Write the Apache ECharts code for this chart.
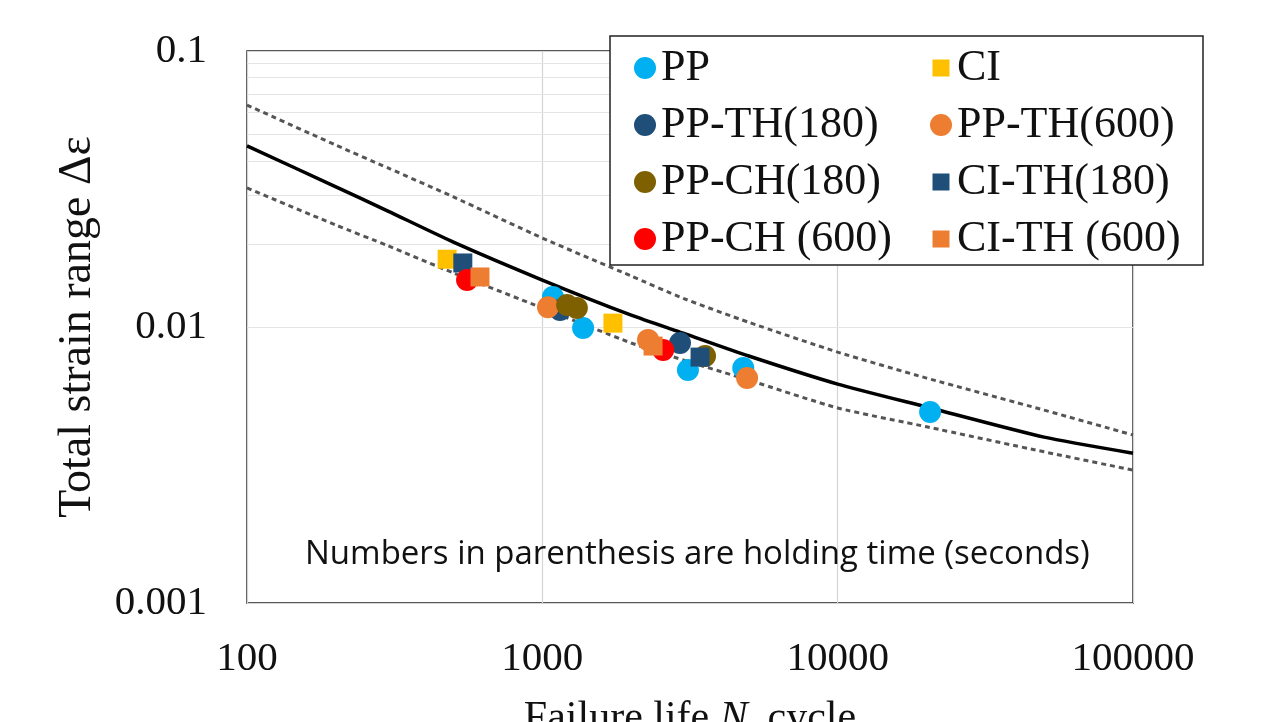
<!DOCTYPE html>
<html>
<head>
<meta charset="utf-8">
<title>Total strain range vs failure life</title>
<script src="https://cdn.jsdelivr.net/npm/echarts@6/dist/echarts.min.js"></script>
<style>
  html, body { margin: 0; padding: 0; background: #fff; }
  #chart { width: 1273px; height: 722px; }
</style>
</head>
<body>
<div id="chart"></div>
<script>
// best-fit curve and the two dotted bands (N, strain range)
var curveN = [100, 200, 300, 500, 1000, 2000, 3000, 5000, 10000, 20000, 50000, 100000];
var meanCurve = [0.0453, 0.0322, 0.0263, 0.0203, 0.0148, 0.01104, 0.0095, 0.00785, 0.00621, 0.00513, 0.00399, 0.00349];
var upperBand = [0.0637, 0.0456, 0.0377, 0.0296, 0.0210, 0.0153, 0.0127, 0.0104, 0.00811, 0.00653, 0.0050, 0.00406];
var lowerBand = [0.0319, 0.0234, 0.0197, 0.0157, 0.01172, 0.00875, 0.00759, 0.00642, 0.00509, 0.00435, 0.00353, 0.00303];

// test results [failure life, total strain range]
var ppData = [[1086, 0.01285], [1374, 0.00992], [3112, 0.00698], [4790, 0.0071], [20560, 0.00492]];
var ciData = [[476, 0.0176], [1734, 0.01033]];
var ppTh180 = [[1148, 0.01153], [2925, 0.00875]];
var ppTh600 = [[1045, 0.0118], [2280, 0.00898], [4935, 0.00653]];
var ppCh180 = [[1213, 0.01202], [1309, 0.01172], [3556, 0.00785]];
var ciTh180 = [[538, 0.01706], [3420, 0.00778]];
var ppCh600 = [[556, 0.01479], [2565, 0.00826]];
var ciTh600 = [[615, 0.01518], [2371, 0.00853]];

var xTickLabels = ['100', '1000', '10000', '100000'];
var yTickLabels = ['0.001', '0.01', '0.1'];
var minorGrid = [0.002, 0.003, 0.004, 0.005, 0.006, 0.007, 0.008, 0.009,
                 0.02, 0.03, 0.04, 0.05, 0.06, 0.07, 0.08, 0.09];

function zip(xs, ys) {
    return xs.map(function (x, i) { return [x, ys[i]]; });
}

var serif = 'Liberation Serif';
var squareIcon = 'path://M0,0M22,22M2.5,2.5L19.5,2.5L19.5,19.5L2.5,19.5Z';

function dots(name, data, color, shape) {
    return {
        name: name,
        type: 'scatter',
        data: data,
        symbol: shape === 'rect' ? 'rect' : 'circle',
        symbolSize: shape === 'rect' ? 19 : 22,
        itemStyle: { color: color, opacity: 1 },
        z: 3
    };
}

var chart = echarts.init(document.getElementById('chart'));

var option = {
    animation: false,
    backgroundColor: '#fff',
    grid: {
        left: 247, top: 51, right: 140, bottom: 119,
        outerBoundsMode: 'none',
        containLabel: false,
        show: true,
        borderColor: '#222',
        borderWidth: 1.5
    },
    xAxis: {
        type: 'log',
        logBase: 10,
        min: 100,
        max: 100000,
        axisLine: { show: false },
        axisTick: { show: false },
        splitLine: { show: true, lineStyle: { color: '#d4d4d4', width: 1.2 } },
        axisLabel: {
            margin: 36,
            fontFamily: serif,
            fontSize: 41,
            color: '#111',
            formatter: function (v) { return xTickLabels[Math.round(Math.log10(v)) - 2]; }
        },
        name: '{t|Failure life }{i|N}{s|f}{t| cycle}',
        nameLocation: 'middle',
        nameGap: 95,
        nameTextStyle: {
            rich: {
                t: { fontFamily: serif, fontSize: 42, color: '#111' },
                i: { fontFamily: serif, fontSize: 42, fontStyle: 'italic', color: '#111' },
                s: { fontFamily: serif, fontSize: 28, color: '#111', verticalAlign: 'bottom', padding: [0, 0, -12, 0] }
            }
        }
    },
    yAxis: {
        type: 'log',
        logBase: 10,
        min: 0.001,
        max: 0.1,
        axisLine: { show: false },
        axisTick: { show: false },
        splitLine: { show: true, lineStyle: { color: '#d4d4d4', width: 1.2 } },
        axisLabel: {
            margin: 40,
            fontFamily: serif,
            fontSize: 41,
            color: '#111',
            formatter: function (v) { return yTickLabels[Math.round(Math.log10(v)) + 3]; }
        },
        name: 'Total strain range Δε',
        nameLocation: 'middle',
        nameGap: 146,
        nameTextStyle: { fontFamily: serif, fontSize: 46, color: '#111' }
    },
    legend: [
        {
            orient: 'vertical',
            left: 629,
            top: 40,
            itemWidth: 22,
            itemHeight: 22,
            itemGap: 11,
            textStyle: { fontFamily: serif, fontSize: 44, lineHeight: 46, color: '#111' },
            data: [
                { name: 'PP', icon: 'circle' },
                { name: 'PP-TH(180)', icon: 'circle' },
                { name: 'PP-CH(180)', icon: 'circle' },
                { name: 'PP-CH (600)', icon: 'circle' }
            ],
            z: 12
        },
        {
            orient: 'vertical',
            left: 925,
            top: 40,
            itemWidth: 22,
            itemHeight: 22,
            itemGap: 11,
            textStyle: { fontFamily: serif, fontSize: 44, lineHeight: 46, color: '#111' },
            data: [
                { name: 'CI', icon: squareIcon },
                { name: 'PP-TH(600)', icon: 'circle' },
                { name: 'CI-TH(180)', icon: squareIcon },
                { name: 'CI-TH (600)', icon: squareIcon }
            ],
            z: 12
        }
    ],
    graphic: [
        {
            type: 'rect',
            shape: { x: 610, y: 36, width: 593, height: 229 },
            style: { fill: '#fff', stroke: '#222', lineWidth: 1.5 },
            z: 10
        },
        {
            type: 'text',
            left: 305,
            top: 538,
            style: {
                text: 'Numbers in parenthesis are holding time (seconds)',
                font: '33px "Open Sans"',
                fill: '#111'
            },
            z: 10
        }
    ],
    series: [
        {
            name: 'minor grid',
            type: 'line',
            data: [],
            silent: true,
            markLine: {
                silent: true,
                symbol: 'none',
                z: 1,
                label: { show: false },
                lineStyle: { color: '#e4e4e4', type: 'solid', width: 1.2 },
                data: minorGrid.map(function (v) { return { yAxis: v }; })
            },
            z: 1
        },
        {
            name: 'upper',
            type: 'line',
            data: zip(curveN, upperBand),
            showSymbol: false,
            symbol: 'none',
            smooth: 0.2,
            silent: true,
            lineStyle: { color: '#555', width: 3, type: [5, 4] },
            z: 2
        },
        {
            name: 'lower',
            type: 'line',
            data: zip(curveN, lowerBand),
            showSymbol: false,
            symbol: 'none',
            smooth: 0.2,
            silent: true,
            lineStyle: { color: '#555', width: 3, type: [5, 4] },
            z: 2
        },
        {
            name: 'mean',
            type: 'line',
            data: zip(curveN, meanCurve),
            showSymbol: false,
            symbol: 'none',
            smooth: 0.2,
            silent: true,
            lineStyle: { color: '#000', width: 3.5 },
            z: 2
        },
        dots('PP', ppData, '#00b0f0', 'circle'),
        dots('CI', ciData, '#ffc000', 'rect'),
        dots('PP-TH(180)', ppTh180, '#1f4e79', 'circle'),
        dots('PP-TH(600)', ppTh600, '#ed7d31', 'circle'),
        dots('PP-CH(180)', ppCh180, '#7f6000', 'circle'),
        dots('CI-TH(180)', ciTh180, '#1f4e79', 'rect'),
        dots('PP-CH (600)', ppCh600, '#ff0000', 'circle'),
        dots('CI-TH (600)', ciTh600, '#ed7d31', 'rect')
    ]
};

chart.setOption(option);
</script>
</body>
</html>
